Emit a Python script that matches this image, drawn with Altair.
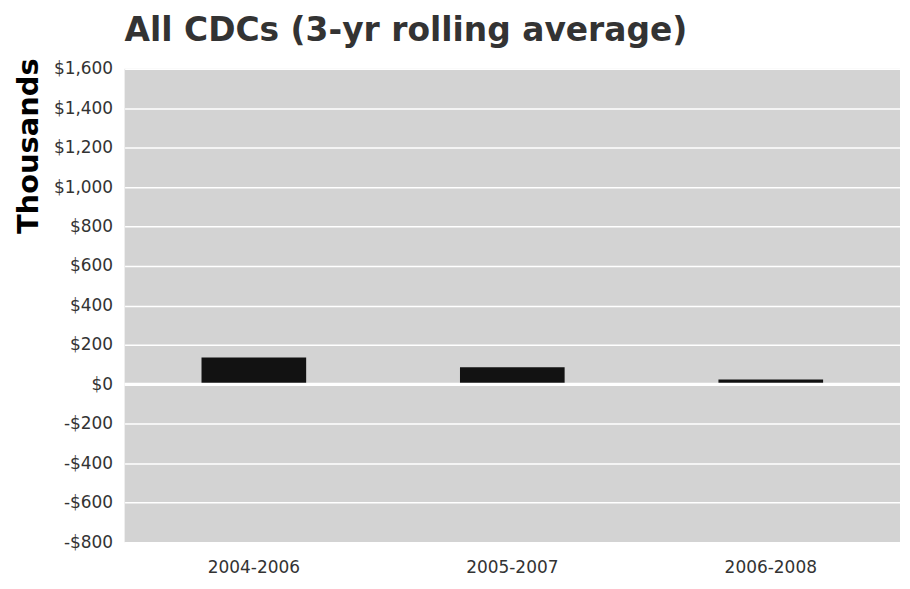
import altair as alt
import pandas as pd

periods = ["2004-2006", "2005-2007", "2006-2008"]
values = [136, 87, 25]
zero = [0]

df = pd.DataFrame({"period": periods, "value": values})
zdf = pd.DataFrame({"value": zero})

label_expr = "datum.value < 0 ? '-$' + format(-datum.value, ',') : '$' + format(datum.value, ',')"

y_axis = alt.Axis(values=list(range(-800, 1601, 200)), labelExpr=label_expr,
                  labelFont="DejaVu Sans", labelFontSize=17, labelColor="#333333",
                  labelPadding=12, ticks=False, domain=False, labelOverlap=False,
                  gridColor="white", gridWidth=1.5, gridOpacity=1,
                  titleFont="DejaVu Sans", titleFontSize=29, titleFontWeight="bold",
                  titleColor="#000000", titlePadding=10, titleAnchor="end", titleY=-11)
y_scale = alt.Scale(domain=[-800, 1600], nice=False)

bars = alt.Chart(df).mark_bar(color="#121212", width=105).encode(
    x=alt.X("period:N", sort=periods, title=None,
            axis=alt.Axis(labelAngle=0, labelFont="DejaVu Sans", labelFontSize=17,
                          labelColor="#333333", labelPadding=17, ticks=False, domain=False, grid=False)),
    y=alt.Y("value:Q", title="Thousands", scale=y_scale, axis=y_axis),
)

zline = alt.Chart(zdf).mark_rule(color="white", strokeWidth=3).encode(
    y=alt.Y("value:Q", title="Thousands", scale=y_scale, axis=y_axis)
)

chart = alt.layer(bars, zline).properties(
    width=778, height=475,
    padding={"left": 6, "right": 0, "top": 6, "bottom": 0},
    background="white",
    title=alt.TitleParams("All CDCs (3-yr rolling average)", font="DejaVu Sans", fontSize=33,
                          fontWeight="bold", color="#333333", anchor="start", frame="group",
                          offset=10),
).configure_view(fill="#d3d3d3", stroke=None)

chart.save("out.html", embed_options={"renderer": "svg", "actions": False})
